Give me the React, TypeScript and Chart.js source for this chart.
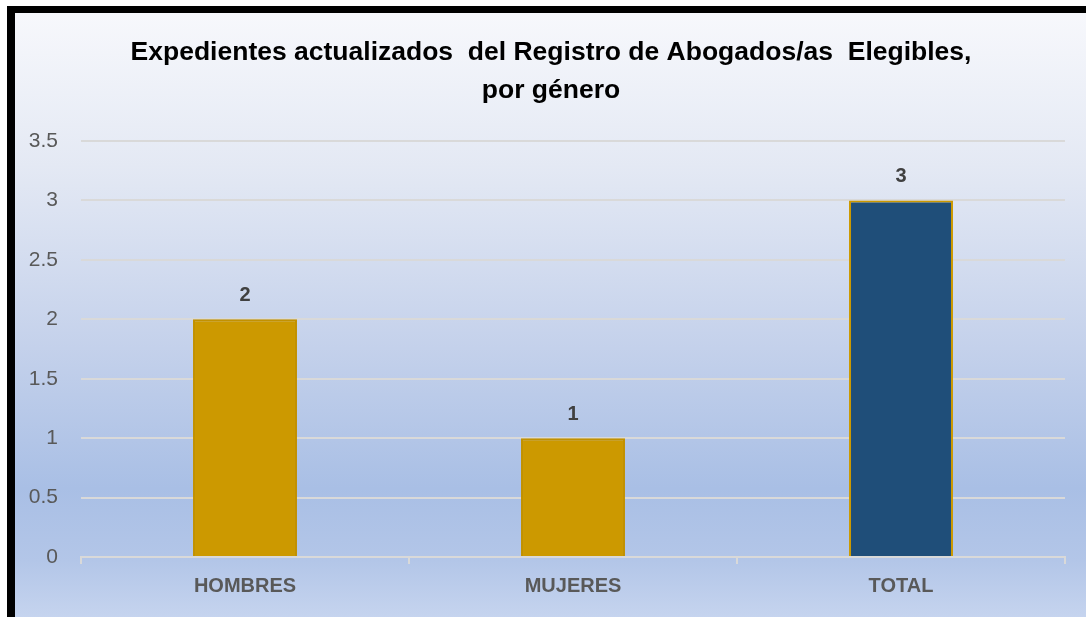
import React, { useEffect, useRef } from "react";
import { Chart, registerables } from "chart.js";

Chart.register(...registerables);

const categories = ["HOMBRES", "MUJERES", "TOTAL"];
const values = [2, 1, 3];
const titleLines = ["Expedientes actualizados  del Registro de Abogados/as  Elegibles,", "por género"];
const barColors = ["#CC9900", "#CC9900", "#1F4E79"];
const barBorders = ["#C29100", "#C29100", "#CC9900"];

const FONT = "'Liberation Sans', Arial, sans-serif";

const dataLabels = {
  id: "dataLabels",
  afterDatasetsDraw(chart: any) {
    const ctx = chart.ctx;
    const meta = chart.getDatasetMeta(0);
    ctx.save();
    ctx.font = `bold 20px ${FONT}`;
    ctx.fillStyle = "#404040";
    ctx.textAlign = "center";
    ctx.textBaseline = "middle";
    meta.data.forEach((bar: any, i: number) => {
      ctx.fillText(String(chart.data.datasets[0].data[i]), bar.x, bar.y - 24);
    });
    ctx.restore();
  },
};

const chartTitle = {
  id: "chartTitle",
  afterDraw(chart: any) {
    const ctx = chart.ctx;
    ctx.save();
    ctx.font = `bold 26.5px ${FONT}`;
    ctx.fillStyle = "#000000";
    ctx.textAlign = "center";
    ctx.textBaseline = "middle";
    titleLines.forEach((line, i) => {
      ctx.fillText(line, 551, 53 + i * 38);
    });
    ctx.restore();
  },
};

export default function App() {
  const ref = useRef<HTMLCanvasElement>(null);
  useEffect(() => {
    if (!ref.current) return;
    const chart = new Chart(ref.current, {
      type: "bar",
      data: {
        labels: categories,
        datasets: [
          {
            data: values,
            backgroundColor: barColors,
            borderColor: barBorders,
            borderWidth: 2,
            barPercentage: 0.317,
            categoryPercentage: 1,
          },
        ],
      },
      options: {
        animation: false,
        responsive: false,
        layout: { padding: { left: 0, right: 21, top: 141, bottom: 0 } },
        plugins: {
          legend: { display: false },
          tooltip: { enabled: false },
          title: { display: false },
        },
        scales: {
          x: {
            afterFit: (s: any) => {
              s.height = 60;
            },
            grid: {
              display: true,
              drawOnChartArea: false,
              drawTicks: true,
              tickLength: 7,
              color: "#D9D9D9",
              lineWidth: 2,
            },
            border: { display: true, color: "#D9D9D9", width: 2 },
            ticks: {
              color: "#595959",
              font: { family: FONT, size: 20, weight: "bold" },
              padding: 10,
            },
          },
          y: {
            min: 0,
            max: 3.5,
            afterFit: (s: any) => {
              s.width = 81;
            },
            grid: { color: "#D9D9D9", lineWidth: 2, drawTicks: false },
            border: { display: false },
            ticks: {
              stepSize: 0.5,
              color: "#595959",
              font: { family: FONT, size: 21 },
              padding: 23,
              callback: (v: any) => String(Number(v)),
            },
          },
        },
      },
      plugins: [dataLabels, chartTitle],
    });
    return () => chart.destroy();
  }, []);

  return (
    <div style={{ position: "fixed", left: 0, top: 0, width: 1086, height: 617, overflow: "hidden", background: "#ffffff" }}>
      <div
        style={{
          position: "absolute",
          left: 7,
          top: 6,
          width: 1100,
          height: 609,
          borderLeft: "8px solid #000",
          borderTop: "7px solid #000",
          borderBottom: "2px solid #3a3a3a",
          background: "linear-gradient(to bottom, #f7f8fc 0%, #e4e9f4 25%, #c4d1eb 55%, #a9bfe5 78%, #b3c6e8 90%, #c7d5ef 100%)",
        }}
      />
      <canvas ref={ref} width={1086} height={617} style={{ position: "absolute", left: 0, top: 0 }} />
    </div>
  );
}
